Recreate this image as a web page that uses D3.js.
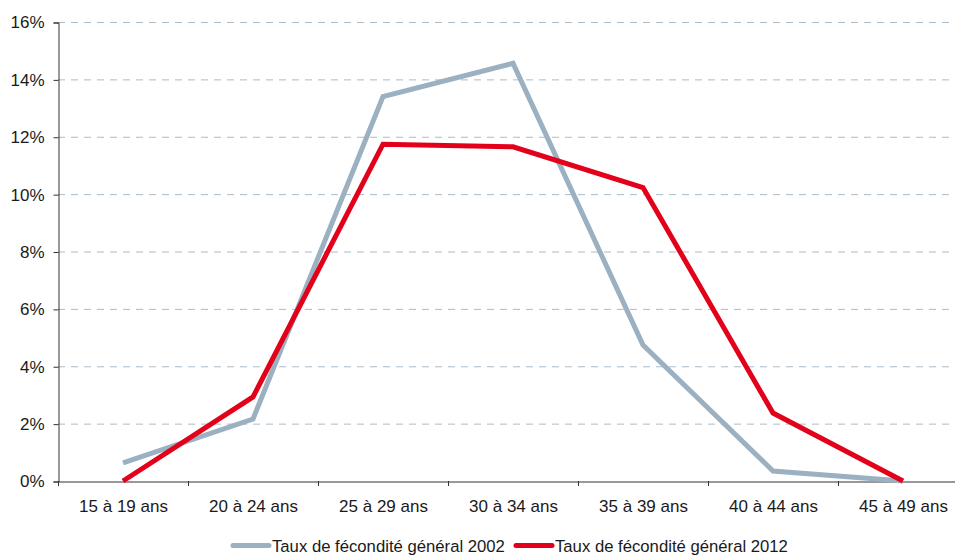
<!DOCTYPE html>
<html>
<head>
<meta charset="utf-8">
<script src="https://cdn.jsdelivr.net/npm/d3@7"></script>
<style>
  body { margin: 0; background: #fff; }
  svg { display: block; font-family: "Liberation Sans", Arial, sans-serif; }
</style>
</head>
<body>
<div id="chart"></div>
<script>
// categories and series (percent)
var ageGroups = ['15 à 19 ans', '20 à 24 ans', '25 à 29 ans', '30 à 34 ans', '35 à 39 ans', '40 à 44 ans', '45 à 49 ans'];
var rate2002 = [0.63, 2.16, 13.4, 14.56, 4.74, 0.35, 0.0];
var rate2012 = [0.0, 2.93, 11.74, 11.65, 10.23, 2.37, 0.0];
var yTicks = [0, 2, 4, 6, 8, 10, 12, 14, 16];
var seriesNames = ['Taux de fécondité général 2002', 'Taux de fécondité général 2012'];
var seriesColors = ['#9bb0c1', '#e2001a'];

var width = 955, height = 557,
    margin = { top: 22, left: 58, bottom: 76 };

var svg = d3.select('#chart').append('svg')
    .attr('width', width)
    .attr('height', height);

var x = d3.scaleBand()
    .domain(ageGroups)
    .range([margin.left, margin.left + 130 * ageGroups.length]);

var y = d3.scaleLinear()
    .domain([0, 16])
    .range([height - margin.bottom, margin.top]);

// Grid lines
svg.append('g').selectAll('line')
    .data(yTicks.filter(function(d) { return d > 0; }))
    .enter().append('line')
    .attr('x1', margin.left)
    .attr('x2', width)
    .attr('y1', function(d) { return y(d) + 0.5; })
    .attr('y2', function(d) { return y(d) + 0.5; })
    .attr('stroke', '#a9bccb')
    .attr('stroke-width', 1)
    .attr('stroke-dasharray', '7,6');

// Y axis
var yAxis = svg.append('g')
    .attr('transform', 'translate(' + (margin.left + 0.5) + ',0.5)')
    .call(d3.axisLeft(y).tickValues(yTicks).tickSize(5).tickPadding(9)
        .tickFormat(function(d) { return d + '%'; }));
yAxis.select('.domain').attr('stroke', '#333');
yAxis.selectAll('.tick line').attr('stroke', '#333');
yAxis.selectAll('text').attr('font-size', 17).attr('fill', '#1a1a1a')
    .attr('font-family', '"Liberation Sans", Arial, sans-serif');

// X axis
var xAxis = svg.append('g')
    .attr('transform', 'translate(0.5,' + (y(0) + 0.5) + ')')
    .call(d3.axisBottom(x).tickSize(0).tickPadding(18));
xAxis.select('.domain').attr('stroke', '#333');
xAxis.selectAll('text').attr('font-size', 17).attr('fill', '#1a1a1a')
    .attr('font-family', '"Liberation Sans", Arial, sans-serif');

// Category separator ticks
svg.append('g').selectAll('line')
    .data(d3.range(ageGroups.length + 1))
    .enter().append('line')
    .attr('x1', function(i) { return margin.left + i * x.step() + 0.5; })
    .attr('x2', function(i) { return margin.left + i * x.step() + 0.5; })
    .attr('y1', y(0))
    .attr('y2', y(0) + 5)
    .attr('stroke', '#333');

// Lines
var line = d3.line()
    .x(function(d, i) { return x(ageGroups[i]) + x.bandwidth() / 2; })
    .y(function(d) { return y(d); });

[rate2002, rate2012].forEach(function(values, k) {
    svg.append('path')
        .datum(values)
        .attr('fill', 'none')
        .attr('stroke', seriesColors[k])
        .attr('stroke-width', 5)
        .attr('stroke-linejoin', 'miter')
        .attr('d', line);
});

// Legend
var legendX = [233, 516];
var legend = svg.append('g');
seriesNames.forEach(function(name, k) {
    legend.append('line')
        .attr('x1', legendX[k])
        .attr('x2', legendX[k] + 36)
        .attr('y1', 545.5)
        .attr('y2', 545.5)
        .attr('stroke', seriesColors[k])
        .attr('stroke-width', 5)
        .attr('stroke-linecap', 'round');
    legend.append('text')
        .attr('x', legendX[k] + 39)
        .attr('y', 552)
        .attr('font-size', 16.7)
        .attr('fill', '#1a1a1a')
        .text(name);
});
</script>
</body>
</html>
